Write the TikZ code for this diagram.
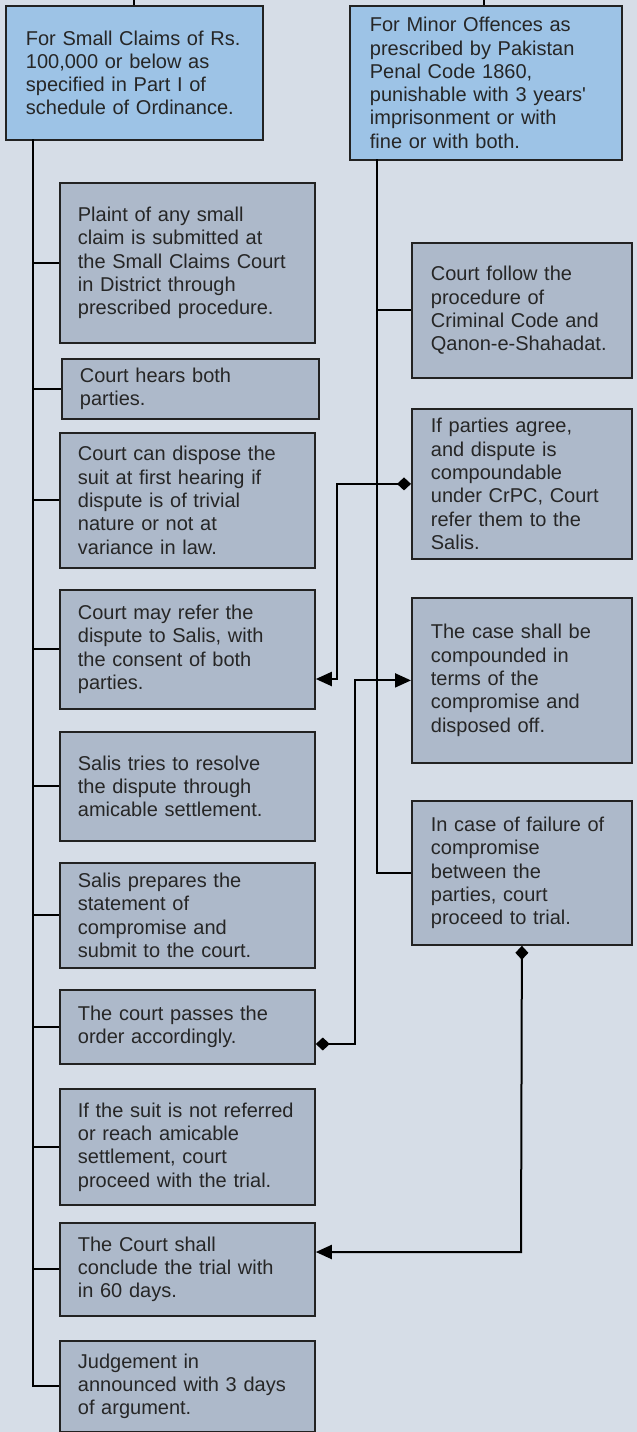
\documentclass[tikz,border=0pt]{standalone}
\usepackage{fontspec}
\setmainfont{Liberation Sans}
\usetikzlibrary{arrows.meta}
\definecolor{bgcol}{HTML}{D6DDE7}
\definecolor{headfill}{HTML}{9DC3E6}
\definecolor{stepfill}{HTML}{ADB9CA}
\definecolor{edgecol}{HTML}{222222}
\definecolor{textcol}{HTML}{262626}

\begin{document}
\begin{tikzpicture}[
		x=1pt, y=1pt,
		box/.style={draw=edgecol, line width=1.8pt, anchor=north west, inner ysep=0pt,
			align=left, text=textcol, font=\fontsize{20pt}{23.3pt}\selectfont},
		head/.style={box, fill=headfill, inner xsep=20pt},
		lstep/.style={box, fill=stepfill, inner xsep=18pt, text width=219pt},
		rstep/.style={box, fill=stepfill, inner xsep=19pt, text width=182pt},
		link/.style={line width=2pt},
		dlink/.style={link, arrows={Diamond[length=14pt,width=13pt]}->},
		>={Triangle[length=16pt,width=14pt]}]
	%% background
	\fill[bgcol] (0,0) rectangle (637,-1432);
	\useasboundingbox (0,0) rectangle (637,-1432);
	%% the two heads
	\node[head, text width=217pt, minimum height=134pt] (ltop) at (5,-5)
		{For Small Claims of Rs.\\100,000 or below as\\specified in Part I of\\schedule of Ordinance.};
	\node[head, text width=232pt, minimum height=154pt] (rtop) at (349,-5)
		{For Minor Offences as\\prescribed by Pakistan\\Penal Code 1860,\\punishable with 3 years\textquotesingle\\imprisonment or with\\fine or with both.};
	%% small claims steps
	\node[lstep, minimum height=160pt] (l1) at (59,-182)
		{Plaint of any small\\claim is submitted at\\the Small Claims Court\\in District through\\prescribed procedure.};
	\node[lstep, text width=221pt, minimum height=60pt] (l2) at (61,-358)
		{Court hears both\\parties.};
	\node[lstep, minimum height=135pt] (l3) at (59,-432)
		{Court can dispose the\\suit at first hearing if\\dispute is of trivial\\nature or not at\\variance in law.};
	\node[lstep, minimum height=119pt] (l4) at (59,-589)
		{Court may refer the\\dispute to Salis, with\\the consent of both\\parties.};
	\node[lstep, minimum height=109pt] (l5) at (59,-731)
		{Salis tries to resolve\\the dispute through\\amicable settlement.};
	\node[lstep, minimum height=105pt] (l6) at (59,-862)
		{Salis prepares the\\statement of\\compromise and\\submit to the court.};
	\node[lstep, minimum height=74pt] (l7) at (59,-989)
		{The court passes the\\order accordingly.};
	\node[lstep, minimum height=116pt] (l8) at (59,-1088)
		{If the suit is not referred\\or reach amicable\\settlement, court\\proceed with the trial.};
	\node[lstep, minimum height=93pt] (l9) at (59,-1222)
		{The Court shall\\conclude the trial with\\in 60 days.};
	\node[lstep, minimum height=91pt] (l10) at (59,-1340)
		{Judgement in\\announced with 3 days\\of argument.};
	%% minor offence steps
	\node[rstep, minimum height=135pt] (r1) at (411,-242)
		{Court follow the\\procedure of\\Criminal Code and\\Qanon-e-Shahadat.};
	\node[rstep, minimum height=150pt] (r2) at (411,-408)
		{If parties agree,\\and dispute is\\compoundable\\under CrPC, Court\\refer them to the\\Salis.};
	\node[rstep, minimum height=165pt] (r3) at (411,-597)
		{The case shall be\\compounded in\\terms of the\\compromise and\\disposed off.};
	\node[rstep, minimum height=144pt] (r4) at (411,-800)
		{In case of failure of\\compromise\\between the\\parties, court\\proceed to trial.};
	%% feeds from above
	\coordinate (lfeed) at (134,0);
	\coordinate (rfeed) at (484,0);
	\draw[link] (lfeed) -- (lfeed |- ltop.north);
	\draw[link] (rfeed) -- (rfeed |- rtop.north);
	%% left spine
	\coordinate (lspine) at (33,-139);
	\draw[link] (lspine) |- (l10.west);
	\foreach \n in {1,...,9}
		\draw[link] (lspine |- l\n.west) -- (l\n.west);
	%% right spine
	\coordinate (rspine) at (377,-159);
	\draw[link] (rspine) |- (r4.west);
	\draw[link] (rspine |- r1.west) -- (r1.west);
	%% cross links
	\coordinate (bendA) at (337,-679);
	\draw[dlink] (r2.west) -| (bendA) -- (bendA -| l4.east);
	\coordinate (bendB) at (355,-1044);
	\draw[dlink] (bendB -| l7.east) -- (bendB) |- (r3.west);
	\coordinate (bendC) at (521,-1252);
	\draw[dlink] (r4.south) -- (bendC) -- (bendC -| l9.east);
\end{tikzpicture}
\end{document}
